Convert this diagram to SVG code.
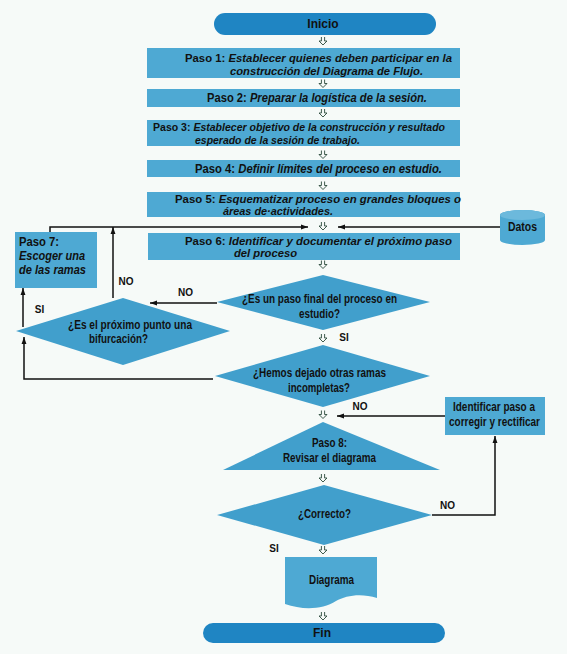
<svg xmlns="http://www.w3.org/2000/svg" width="567" height="654" viewBox="0 0 567 654">
<defs>
<style>
.bg{fill:#f6faf8}
.term{fill:#1f85c3}
.box{fill:#4ea9d3}
.dia{fill:#419fcc}
.t{font-family:"Liberation Sans",Arial,sans-serif;font-weight:bold;font-size:12px;fill:#111}
.s{font-size:11px}
.i{font-style:italic}
.lbl{font-family:"Liberation Sans",Arial,sans-serif;font-weight:bold;font-size:10px;fill:#111}
.ln{fill:none;stroke:#111;stroke-width:1.5}
.ha{fill:none;stroke:#2a4a3a;stroke-width:0.9}
</style>
<marker id="ah" viewBox="0 0 10 10" refX="10" refY="5" markerWidth="7" markerHeight="7" orient="auto" markerUnits="userSpaceOnUse">
<path d="M0,1.5 L10,5 L0,8.5 Z" fill="#111"/>
</marker>
<path id="hollow" d="M-1.6,-4 V0 H-4 L0,4 L4,0 H1.6 V-4"/>
</defs>
<rect class="bg" x="0" y="0" width="567" height="654"/>

<g id="inicio">
<rect class="term" x="214" y="13" width="222" height="22" rx="11"/>
<text class="t" x="323" y="28" text-anchor="middle" font-size="13">Inicio</text>
</g>
<g id="paso1">
<rect class="box" x="147" y="48" width="313" height="30"/>
<text class="t s" x="185" y="62" textLength="267" lengthAdjust="spacingAndGlyphs">Paso 1: <tspan class="i">Establecer quienes deben participar en la</tspan></text>
<text class="t s i" x="230" y="75" textLength="193" lengthAdjust="spacingAndGlyphs">construcción del Diagrama de Flujo.</text>
</g>
<g id="paso2">
<rect class="box" x="147" y="89" width="313" height="18"/>
<text class="t" x="207" y="101.5" textLength="220" lengthAdjust="spacingAndGlyphs">Paso 2: <tspan class="i">Preparar la logística de la sesión.</tspan></text>
</g>
<g id="paso3">
<rect class="box" x="147" y="120" width="313" height="26"/>
<text class="t s" x="153" y="131" textLength="292" lengthAdjust="spacingAndGlyphs">Paso 3: <tspan class="i">Establecer objetivo de la construcción y resultado</tspan></text>
<text class="t s i" x="195" y="143.5" textLength="165" lengthAdjust="spacingAndGlyphs">esperado de la sesión de trabajo.</text>
</g>
<g id="paso4">
<rect class="box" x="147" y="160" width="313" height="17"/>
<text class="t" x="195" y="173" textLength="247" lengthAdjust="spacingAndGlyphs">Paso 4: <tspan class="i">Definir límites del proceso en estudio.</tspan></text>
</g>
<g id="paso5">
<rect class="box" x="147" y="192" width="313" height="25"/>
<text class="t s" x="175" y="202.5" textLength="286" lengthAdjust="spacingAndGlyphs">Paso 5: <tspan class="i">Esquematizar proceso en grandes bloques o</tspan></text>
<text class="t s i" x="223" y="215" textLength="110" lengthAdjust="spacingAndGlyphs">áreas de·actividades.</text>
</g>
<g id="paso6">
<rect class="box" x="148" y="233" width="312" height="27"/>
<text class="t s" x="185" y="244.5" textLength="267" lengthAdjust="spacingAndGlyphs">Paso 6: <tspan class="i">Identificar y documentar el próximo paso</tspan></text>
<text class="t s i" x="234" y="257" textLength="63" lengthAdjust="spacingAndGlyphs">del proceso</text>
</g>
<g id="paso7">
<rect class="box" x="15" y="232" width="82" height="56"/>
<text class="t" x="19" y="246" textLength="40" lengthAdjust="spacingAndGlyphs">Paso 7:</text>
<text class="t i" x="19" y="260" textLength="66" lengthAdjust="spacingAndGlyphs">Escoger una</text>
<text class="t i" x="19" y="274" textLength="67" lengthAdjust="spacingAndGlyphs">de las ramas</text>
</g>
<g id="datos">
<path class="box" d="M500,215 A22.5,5 0 0 1 545,215 V240 A22.5,5 0 0 1 500,240 Z"/>
<ellipse cx="522.5" cy="215" rx="22.5" ry="5" fill="#6cb9dc"/>
<text class="t" x="522.5" y="231" text-anchor="middle" textLength="29" lengthAdjust="spacingAndGlyphs">Datos</text>
</g>
<g id="decision1">
<polygon class="dia" points="323,275 430,302 323,330 217,302"/>
<text class="t" x="319.5" y="303" text-anchor="middle" textLength="155" lengthAdjust="spacingAndGlyphs">¿Es un paso final del proceso en</text>
<text class="t" x="319.5" y="318" text-anchor="middle" textLength="41" lengthAdjust="spacingAndGlyphs">estudio?</text>
</g>
<g id="decision2">
<polygon class="dia" points="123,298 230,331 123,365 16,331"/>
<text class="t" x="130" y="329" text-anchor="middle" textLength="124" lengthAdjust="spacingAndGlyphs">¿Es el próximo punto una</text>
<text class="t" x="118.5" y="343" text-anchor="middle" textLength="59" lengthAdjust="spacingAndGlyphs">bifurcación?</text>
</g>
<g id="decision3">
<polygon class="dia" points="323,345 430,376 323,407 215,376"/>
<text class="t" x="319.5" y="377" text-anchor="middle" textLength="133" lengthAdjust="spacingAndGlyphs">¿Hemos dejado otras ramas</text>
<text class="t" x="319" y="392" text-anchor="middle" textLength="62" lengthAdjust="spacingAndGlyphs">incompletas?</text>
</g>
<g id="identificar">
<rect class="box" x="445" y="397" width="100" height="38"/>
<text class="t" x="494" y="411" text-anchor="middle" textLength="82" lengthAdjust="spacingAndGlyphs">Identificar paso a</text>
<text class="t" x="494.5" y="426" text-anchor="middle" textLength="91" lengthAdjust="spacingAndGlyphs">corregir y rectificar</text>
</g>
<g id="paso8">
<polygon class="dia" points="323,422 440,470 223,470"/>
<text class="t" x="329.5" y="447" text-anchor="middle" textLength="35" lengthAdjust="spacingAndGlyphs">Paso 8:</text>
<text class="t" x="329.5" y="462" text-anchor="middle" textLength="93" lengthAdjust="spacingAndGlyphs">Revisar el diagrama</text>
</g>
<g id="correcto">
<polygon class="dia" points="324,485 432,515 324,545 217,515"/>
<text class="t" x="324.5" y="518" text-anchor="middle" textLength="53" lengthAdjust="spacingAndGlyphs">¿Correcto?</text>
</g>
<g id="diagrama">
<path class="box" d="M285,557 H377 V598 C362,593 346,595 336,601 C322,610 302,610 285,604 Z"/>
<text class="t" x="331.5" y="584" text-anchor="middle" textLength="45" lengthAdjust="spacingAndGlyphs">Diagrama</text>
</g>
<g id="fin">
<rect class="term" x="203" y="623" width="242" height="20" rx="10"/>
<text class="t" x="322" y="637" text-anchor="middle" font-size="13">Fin</text>
</g>

<g id="connectors">
<use href="#hollow" class="ha" x="323" y="41"/>
<use href="#hollow" class="ha" x="323" y="83.5"/>
<use href="#hollow" class="ha" x="323" y="113"/>
<use href="#hollow" class="ha" x="323" y="154.5"/>
<use href="#hollow" class="ha" x="323" y="185.5"/>
<use href="#hollow" class="ha" x="323" y="226"/>
<use href="#hollow" class="ha" x="323" y="264.5"/>
<use href="#hollow" class="ha" x="323" y="338"/>
<use href="#hollow" class="ha" x="323" y="414.5"/>
<use href="#hollow" class="ha" x="323" y="478"/>
<use href="#hollow" class="ha" x="323" y="550"/>
<use href="#hollow" class="ha" x="323" y="616"/>
<path class="ln" d="M50,232 V227 H308" marker-end="url(#ah)"/>
<path class="ln" d="M113,298 V227" marker-end="url(#ah)"/>
<path class="ln" d="M500,227 H338" marker-end="url(#ah)"/>
<path class="ln" d="M217,303 H150" marker-end="url(#ah)"/>
<path class="ln" d="M23,327 V288" marker-end="url(#ah)"/>
<path class="ln" d="M213,379 H24 V337" marker-end="url(#ah)"/>
<path class="ln" d="M445,416 H337" marker-end="url(#ah)"/>
<path class="ln" d="M432,515 H495 V436" marker-end="url(#ah)"/>
<text class="lbl" x="126" y="285" text-anchor="middle">NO</text>
<text class="lbl" x="185.5" y="296" text-anchor="middle">NO</text>
<text class="lbl" x="39.5" y="313" text-anchor="middle">SI</text>
<text class="lbl" x="344" y="341" text-anchor="middle">SI</text>
<text class="lbl" x="360" y="410" text-anchor="middle">NO</text>
<text class="lbl" x="447.5" y="509" text-anchor="middle">NO</text>
<text class="lbl" x="274" y="552" text-anchor="middle">SI</text>
</g>
</svg>
